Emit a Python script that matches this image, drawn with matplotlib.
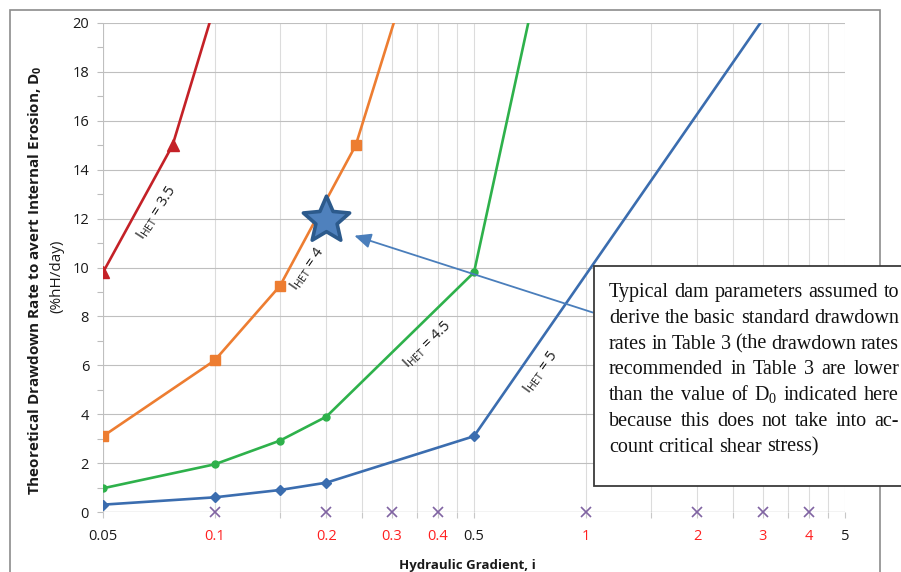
import matplotlib
matplotlib.use("Agg")
import matplotlib.pyplot as plt
from matplotlib.ticker import FixedLocator, FixedFormatter, NullFormatter
from matplotlib.patches import Rectangle
from matplotlib.path import Path

# ---------------- data ----------------
x_het35 = [0.05, 0.077, 0.1]
y_het35 = [9.8, 15.0, 20.7]
x_het4 = [0.05, 0.1, 0.15, 0.24, 0.35]
y_het4 = [3.1, 6.2, 9.25, 15.0, 23.0]
x_het45 = [0.05, 0.1, 0.15, 0.2, 0.5, 1.0]
y_het45 = [0.97, 1.95, 2.92, 3.9, 9.8, 30.8]
x_het5 = [0.05, 0.1, 0.15, 0.2, 0.5, 5.0]
y_het5 = [0.3, 0.6, 0.9, 1.2, 3.1, 25.0]

star_x = [0.2]
star_y = [11.95]

mark_x = [0.1, 0.2, 0.3, 0.4, 1, 2, 3, 4]
mark_y = [0, 0, 0, 0, 0, 0, 0, 0]

major_x = [0.05, 0.1, 0.2, 0.3, 0.4, 0.5, 1, 2, 3, 4, 5]
major_lbl = ["0.05", "0.1", "0.2", "0.3", "0.4", "0.5", "1", "2", "3", "4", "5"]
minor_x = [0.15, 0.25, 0.35, 0.45, 1.5, 2.5, 3.5, 4.5]

curve_lbl = [r"I$_\mathregular{HET}$ = 3.5", r"I$_\mathregular{HET}$ = 4",
             r"I$_\mathregular{HET}$ = 4.5", r"I$_\mathregular{HET}$ = 5"]
curve_lbl_x = [0.0698, 0.178, 0.374, 0.757]
curve_lbl_y = [12.24, 9.96, 6.86, 5.71]
curve_lbl_rot = [57, 55, 44, 54]

arrow_from = (1.045, 8.16)
arrow_to = (0.238, 11.3)

note_lines = [
    "Typical dam parameters assumed to",
    "derive the basic standard drawdown",
    "rates in Table 3 (the drawdown rates",
    "recommended in Table 3 are lower",
    r"than the value of D$_\mathregular{0}$ indicated here",
    "because this does not take into ac-",
    "count critical shear stress)",
]

# ---------------- figure ----------------
W, H = 901, 572
fig = plt.figure(figsize=(W / 100, H / 100), dpi=100)
plt.rcParams['font.family'] = ['Open Sans', 'DejaVu Sans']

L, R, T, B = 103, 845, 23, 512
ax = fig.add_axes([L / W, (H - B) / H, (R - L) / W, (B - T) / H])

red_c = '#C42127'
org_c = '#ED7D31'
grn_c = '#2EB14B'
blu_c = '#3B6DAF'

ax.plot(x_het35, y_het35, color=red_c, lw=1.9, marker='^', ms=8, zorder=3)
ax.plot(x_het4, y_het4, color=org_c, lw=1.9, marker='s', ms=7, zorder=3)
ax.plot(x_het45, y_het45, color=grn_c, lw=1.9, marker='o', ms=5, zorder=3)
ax.plot(x_het5, y_het5, color=blu_c, lw=1.9, marker='D', ms=5, zorder=3)
ax.plot(mark_x, mark_y, ls='none', marker='x', ms=7, mew=1.2, color='#8064A2',
        zorder=4, clip_on=False)

star_path = Path.unit_regular_star(5, 0.46)
ax.plot(star_x, star_y, ls='none', marker=star_path, ms=35, color='#4F81BD',
        mec='#2C5A8C', mew=2.6, zorder=6)

ax.annotate("", xy=arrow_to, xytext=arrow_from,
            arrowprops=dict(arrowstyle='-|>,head_length=1.0,head_width=0.45',
                            color='#4A7EBB', lw=1.3, shrinkA=0, shrinkB=0),
            zorder=5)

for s, x, y, r in zip(curve_lbl, curve_lbl_x, curve_lbl_y, curve_lbl_rot):
    ax.text(x, y, s, rotation=r, rotation_mode='anchor', ha='center',
            va='center', fontsize=10.5, color='#1a1a1a', zorder=7)

ax.set_xscale('log')
ax.set_xlim(0.05, 5)
ax.set_ylim(0, 20)

ax.xaxis.set_major_locator(FixedLocator(major_x))
ax.xaxis.set_major_formatter(FixedFormatter(major_lbl))
ax.xaxis.set_minor_locator(FixedLocator(minor_x))
ax.xaxis.set_minor_formatter(NullFormatter())
ax.yaxis.set_major_locator(FixedLocator(list(range(0, 21, 2))))
ax.yaxis.set_minor_locator(FixedLocator(list(range(1, 20, 2))))

for lbl, v in zip(ax.get_xticklabels(), major_x):
    lbl.set_color('#FF2020' if v in mark_x else '#1a1a1a')

ax.tick_params(axis='x', which='both', direction='out', length=4, width=0.8,
               color='#c8c8c8', labelsize=10.5, pad=8)
ax.tick_params(axis='y', which='both', direction='out', length=4, width=0.8,
               color='#bdbdbd', labelsize=10.5, pad=6, labelcolor='#1a1a1a')

ax.grid(True, axis='x', which='both', color='#dcdcdc', lw=0.8)
ax.grid(True, axis='y', which='major', color='#bfbfbf', lw=0.8)
ax.set_axisbelow(True)
for sp in ax.spines.values():
    sp.set_visible(False)
ax.axhline(0, color='#bfbfbf', lw=0.9, zorder=1)
ax.axvline(0.05, color='#bfbfbf', lw=0.8, zorder=1)

# axis titles
fig.text(35 / W, (H - 280) / H,
         r"Theoretical Drawdown Rate to avert Internal Erosion, D$_\mathregular{0}$",
         rotation=90, ha='center', va='center', fontsize=11, fontweight='bold',
         color='#1a1a1a')
fig.text(57 / W, (H - 276) / H, "(%hH/day)", rotation=90, ha='center',
         va='center', fontsize=11, color='#1a1a1a')
fig.text(467 / W, (H - 565) / H, "Hydraulic Gradient, i", ha='center',
         va='center', fontsize=9.5, fontweight='bold', color='#1a1a1a')

# outer chart frame
fig.add_artist(Rectangle((10 / W, -0.1), (880 - 10) / W, 1.1 - 10 / H,
                         transform=fig.transFigure, fill=False,
                         ec='#8c8c8c', lw=1.2, zorder=0.5))

# note box
bx0, by_top, by_bot = 594, 266, 486
fig.add_artist(Rectangle((bx0 / W, (H - by_bot) / H), 1.1 - bx0 / W,
                         (by_bot - by_top) / H, transform=fig.transFigure,
                         fc='white', ec='#3a3a3a', lw=1.3, zorder=5))

fig.canvas.draw()
rend = fig.canvas.get_renderer()
tx0, tx1 = 609, 899
base0, lstep = 297, 25.8
fkw = dict(family=['Liberation Serif', 'DejaVu Serif'], fontsize=14.5,
           color='#111111', va='baseline', ha='left', zorder=6)
for i, line in enumerate(note_lines):
    yb = (H - (base0 + i * lstep)) / H
    words = line.split(' ')
    objs = [fig.text(0, yb, w, transform=fig.transFigure, **fkw) for w in words]
    widths = [o.get_window_extent(rend).width for o in objs]
    last = (i == len(note_lines) - 1)
    if last or len(words) == 1:
        sp = fig.text(0, 0, 'a a', **fkw)
        sw = sp.get_window_extent(rend).width
        sp2 = fig.text(0, 0, 'aa', **fkw)
        sw -= sp2.get_window_extent(rend).width
        sp.remove(); sp2.remove()
        gap = sw
    else:
        gap = (tx1 - tx0 - sum(widths)) / (len(words) - 1)
    x = tx0
    for o, w in zip(objs, widths):
        o.set_x(x / W)
        x += w + gap

fig.savefig("out.png", dpi=100)
